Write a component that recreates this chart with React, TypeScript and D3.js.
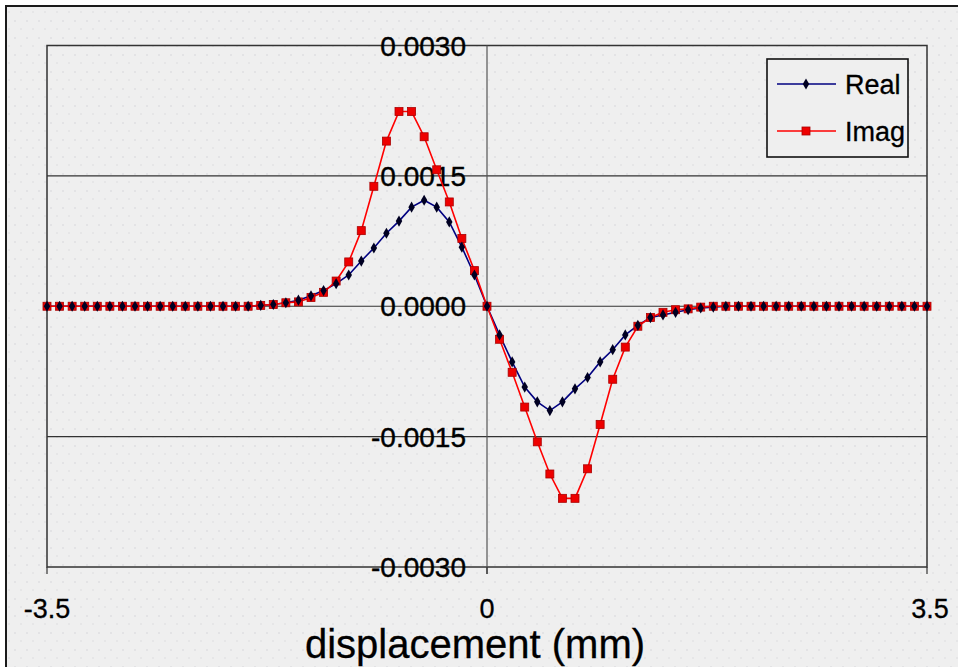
import React, { useEffect, useRef } from "react";
import * as d3 from "d3";

// displacement categories (mm)
const displacement = [
  -3.5, -3.4, -3.3, -3.2, -3.1, -3.0, -2.9, -2.8, -2.7, -2.6, -2.5, -2.4, -2.3, -2.2, -2.1, -2.0,
  -1.9, -1.8, -1.7, -1.6, -1.5, -1.4, -1.3, -1.2, -1.1, -1.0, -0.9, -0.8, -0.7, -0.6, -0.5, -0.4,
  -0.3, -0.2, -0.1, 0, 0.1, 0.2, 0.3, 0.4, 0.5, 0.6, 0.7, 0.8, 0.9, 1.0, 1.1, 1.2, 1.3, 1.4, 1.5,
  1.6, 1.7, 1.8, 1.9, 2.0, 2.1, 2.2, 2.3, 2.4, 2.5, 2.6, 2.7, 2.8, 2.9, 3.0, 3.1, 3.2, 3.3, 3.4, 3.5,
];

const realValues = [
  0, 0, 0, 0, 0, 0, 0, 0, 0, 0, 0, 0, 0, 0, 0, 0, 0,
  0.00001, 0.00002, 0.00004, 0.00007, 0.00012, 0.00018, 0.00026, 0.00036, 0.00052, 0.00067,
  0.00084, 0.00098, 0.00114, 0.00122, 0.00114, 0.00097, 0.00068, 0.00036,
  0,
  -0.00033, -0.00064, -0.00093, -0.0011, -0.0012, -0.0011, -0.00095, -0.00082, -0.00064,
  -0.0005, -0.00033, -0.00022, -0.00013, -0.0001, -0.00007, -0.00004, -0.00002, -0.00001,
  0, 0, 0, 0, 0, 0, 0, 0, 0, 0, 0, 0, 0, 0, 0, 0, 0,
];

const imagValues = [
  0, 0, 0, 0, 0, 0, 0, 0, 0, 0, 0, 0, 0, 0, 0, 0, 0,
  0.00001, 0.00002, 0.00004, 0.00005, 0.0001, 0.00016, 0.00029, 0.00051, 0.00087, 0.00138,
  0.0019, 0.00224, 0.00224, 0.00195, 0.00157, 0.0012, 0.00078, 0.00041,
  0,
  -0.00038, -0.00076, -0.00116, -0.00156, -0.00193, -0.00221, -0.00221, -0.00187, -0.00136,
  -0.00084, -0.00047, -0.00023, -0.00013, -0.00007, -0.00004, -0.00003, -0.00001, 0,
  0, 0, 0, 0, 0, 0, 0, 0, 0, 0, 0, 0, 0, 0, 0, 0, 0,
];

const yTicks = [0.003, 0.0015, 0, -0.0015, -0.003];
const xTicks = [-3.5, 0, 3.5];
const xTickLabels = ["-3.5", "0", "3.5"];
const seriesNames = ["Real", "Imag"];

const width = 958;
const height = 667;

const App: React.FC = () => {
  const ref = useRef<SVGSVGElement>(null);

  useEffect(() => {
    const svg = d3.select(ref.current);
    svg.selectAll("*").remove();

    const font = "'Liberation Sans', Arial, sans-serif";

    const xScale = d3.scaleLinear().domain([-3.5, 3.5]).range([47, 927]);
    const yScale = d3.scaleLinear().domain([-0.003, 0.003]).range([567, 45.5]);

    // dotted background pattern
    const defs = svg.append("defs");
    const pat = defs
      .append("pattern")
      .attr("id", "dots")
      .attr("width", 12)
      .attr("height", 17)
      .attr("patternUnits", "userSpaceOnUse");
    pat.append("rect").attr("width", 12).attr("height", 17).attr("fill", "#efefef");
    pat.append("circle").attr("cx", 3).attr("cy", 4).attr("r", 0.7).attr("fill", "#cfcfd4");
    pat.append("circle").attr("cx", 9).attr("cy", 12).attr("r", 0.7).attr("fill", "#d6d6da");

    svg.append("rect").attr("width", width).attr("height", height).attr("fill", "#ffffff");
    svg
      .append("rect")
      .attr("x", 6)
      .attr("y", 6)
      .attr("width", width + 10)
      .attr("height", height + 10)
      .attr("fill", "url(#dots)")
      .attr("stroke", "#1a1a1a")
      .attr("stroke-width", 2);

    // plot area
    svg
      .append("rect")
      .attr("x", xScale(-3.5))
      .attr("y", yScale(0.003))
      .attr("width", xScale(3.5) - xScale(-3.5))
      .attr("height", yScale(-0.003) - yScale(0.003))
      .attr("fill", "url(#dots)")
      .attr("stroke", "#333")
      .attr("stroke-width", 1.5);

    // horizontal gridlines
    svg
      .append("g")
      .selectAll("line")
      .data(yTicks.slice(1, 4))
      .join("line")
      .attr("x1", xScale(-3.5))
      .attr("x2", xScale(3.5))
      .attr("y1", (d) => yScale(d))
      .attr("y2", (d) => yScale(d))
      .attr("stroke", "#333")
      .attr("stroke-width", 1.2);

    // vertical axis at zero
    svg
      .append("line")
      .attr("x1", xScale(0))
      .attr("x2", xScale(0))
      .attr("y1", yScale(0.003))
      .attr("y2", yScale(-0.003) + 7)
      .attr("stroke", "#555")
      .attr("stroke-width", 1.2);

    // bottom ticks
    svg
      .append("g")
      .selectAll("line")
      .data(xTicks)
      .join("line")
      .attr("x1", (d) => xScale(d))
      .attr("x2", (d) => xScale(d))
      .attr("y1", yScale(-0.003))
      .attr("y2", yScale(-0.003) + 7)
      .attr("stroke", "#333")
      .attr("stroke-width", 1.2);

    // y tick labels
    svg
      .append("g")
      .selectAll("text")
      .data(yTicks)
      .join("text")
      .attr("x", xScale(0) - 21)
      .attr("y", (d) => yScale(d) + 10)
      .attr("text-anchor", "end")
      .attr("font-family", font)
      .attr("font-size", 28)
      .attr("fill", "#000")
      .attr("stroke", "#000")
      .attr("stroke-width", 0.4)
      .text((d) => d3.format(".4f")(d).replace("−", "-"));

    // x tick labels
    svg
      .append("g")
      .selectAll("text")
      .data(xTicks)
      .join("text")
      .attr("x", (d, i) => xScale(d) + (i === 2 ? 3 : 0))
      .attr("y", 618)
      .attr("text-anchor", "middle")
      .attr("font-family", font)
      .attr("font-size", 27)
      .attr("fill", "#000")
      .attr("stroke", "#000")
      .attr("stroke-width", 0.3)
      .text((d, i) => xTickLabels[i]);

    svg
      .append("text")
      .attr("x", 475)
      .attr("y", 658)
      .attr("text-anchor", "middle")
      .attr("font-family", font)
      .attr("font-size", 40)
      .attr("fill", "#000")
      .attr("stroke", "#000")
      .attr("stroke-width", 0.3)
      .text("displacement (mm)");

    // series
    const line = d3
      .line<number>()
      .x((d, i) => xScale(displacement[i]))
      .y((d) => yScale(d));

    const diamond = d3.symbol().type(d3.symbolDiamond).size(36);

    svg
      .append("path")
      .datum(realValues)
      .attr("fill", "none")
      .attr("stroke", "#000080")
      .attr("stroke-width", 1.6)
      .attr("d", line);

    svg
      .append("path")
      .datum(imagValues)
      .attr("fill", "none")
      .attr("stroke", "#ff0000")
      .attr("stroke-width", 1.6)
      .attr("d", line);

    svg
      .append("g")
      .selectAll("rect")
      .data(imagValues)
      .join("rect")
      .attr("x", (d, i) => xScale(displacement[i]) - 4)
      .attr("y", (d) => yScale(d) - 4)
      .attr("width", 8)
      .attr("height", 8)
      .attr("fill", "#ee0000")
      .attr("stroke", "#aa0000")
      .attr("stroke-width", 0.8);

    svg
      .append("g")
      .selectAll("path")
      .data(realValues)
      .join("path")
      .attr("transform", (d, i) => `translate(${xScale(displacement[i])},${yScale(d)})`)
      .attr("d", diamond)
      .attr("fill", "#000022");

    // legend
    const lg = svg.append("g").attr("transform", "translate(767,59)");
    lg.append("rect")
      .attr("width", 141)
      .attr("height", 98)
      .attr("fill", "#efefef")
      .attr("stroke", "#111")
      .attr("stroke-width", 1.6);

    seriesNames.forEach((name, i) => {
      const y = 25 + i * 47;
      const color = i === 0 ? "#000080" : "#ff0000";
      lg.append("line")
        .attr("x1", 10)
        .attr("x2", 69)
        .attr("y1", y)
        .attr("y2", y)
        .attr("stroke", color)
        .attr("stroke-width", 1.6);
      if (i === 0) {
        lg.append("path")
          .attr("transform", `translate(39,${y})`)
          .attr("d", diamond)
          .attr("fill", "#000022");
      } else {
        lg.append("rect")
          .attr("x", 35)
          .attr("y", y - 4)
          .attr("width", 8)
          .attr("height", 8)
          .attr("fill", "#ee0000")
          .attr("stroke", "#aa0000")
          .attr("stroke-width", 0.8);
      }
      lg.append("text")
        .attr("x", 78)
        .attr("y", y + 10)
        .attr("font-family", font)
        .attr("font-size", 27)
        .attr("fill", "#000")
        .attr("stroke", "#000")
        .attr("stroke-width", 0.3)
        .text(name);
    });
  }, []);

  return (
    <svg
      ref={ref}
      width={width}
      height={height}
      style={{ position: "absolute", left: 0, top: 0 }}
    />
  );
};

export default App;
